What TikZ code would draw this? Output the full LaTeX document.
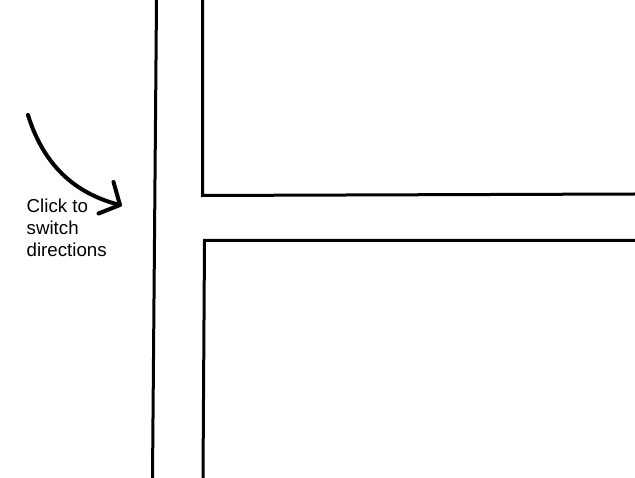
\documentclass[tikz,border=0pt]{standalone}
\usepackage{fontspec}
\setmainfont{Liberation Sans}
\begin{document}
\begin{tikzpicture}[x=1pt,y=-1pt,
  road/.style={line width=3pt, line cap=butt, line join=miter},
  pen/.style={line width=4pt, line cap=round, line join=round},
  lbl/.style={font=\fontsize{18.7pt}{22pt}\selectfont, align=left, anchor=north west, inner sep=0pt}]
\useasboundingbox (0,0) rectangle (635,478);
\fill[white] (0,0) rectangle (635,478);
% roads
\draw[road] (156.5,0) -- (152.5,478);
\draw[road] (202.5,0) -- (202.5,195.5) -- (635,194);
\draw[road] (635,240.5) -- (204.5,240.5) -- (203,478);
% arrow
\coordinate (s) at (28,115);
\coordinate (e) at (120,205);
\coordinate (h1) at (113.5,182);
\coordinate (h2) at (98.5,213.5);
\draw[pen] (s) .. controls (45,170) and (80,195) .. (e);
\draw[pen] (h1) -- (e) -- (h2);
% label
\node[lbl] (t) at (26.5,199) {Click to\\switch\\directions};
\end{tikzpicture}
\end{document}
